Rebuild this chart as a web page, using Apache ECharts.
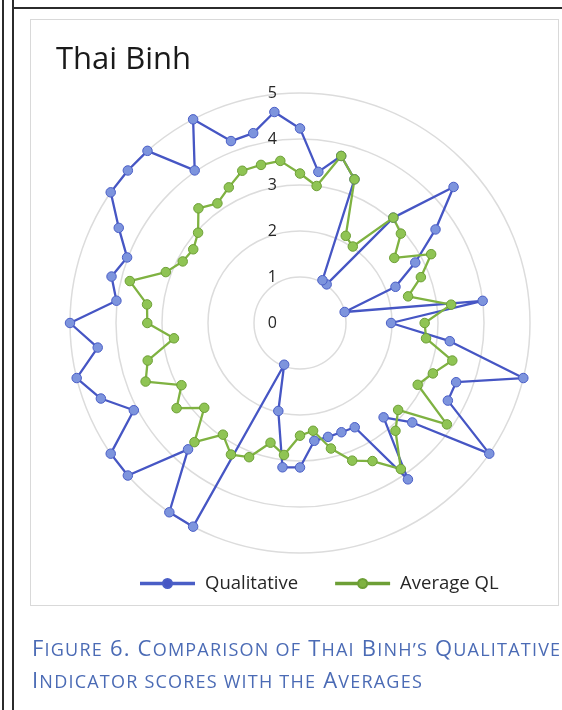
<!DOCTYPE html>
<html>
<head>
<meta charset="utf-8">
<script src="https://cdn.jsdelivr.net/npm/echarts@6/dist/echarts.min.js"></script>
<style>
  html, body { margin: 0; padding: 0; background: #ffffff; }
  body { width: 562px; height: 710px; position: relative; overflow: hidden; }
  .vline { position: absolute; top: 0; bottom: 0; width: 1.5px; background: #2b2b2b; }
  .hline { position: absolute; left: 12px; right: 0; height: 1.5px; background: #2b2b2b; }
  #frame { position: absolute; left: 30px; top: 19px; width: 529px; height: 587px; border: 1px solid #d9d9d9; box-sizing: border-box; }
  #chart { position: absolute; left: 0; top: 0; width: 562px; height: 710px; }
  #caption { position: absolute; left: 32px; top: 632px; width: 600px; color: #4b6bb5;
    font-family: "Open Sans", "Lato", sans-serif; font-size: 22px; letter-spacing: 1.2px;
    line-height: 30px; white-space: nowrap; }
  #caption .sc { text-transform: uppercase; font-size: 0.82em; }
</style>
</head>
<body>
<div class="vline" style="left:2px"></div>
<div class="vline" style="left:12px"></div>
<div class="hline" style="top:7px"></div>
<div id="frame"></div>
<div id="chart"></div>
<div id="caption">F<span class="sc">igure</span> 6. C<span class="sc">omparison of</span> T<span class="sc">hai</span> B<span class="sc">inh’s</span> Q<span class="sc">ualitative</span><br>I<span class="sc">ndicator scores with the</span> A<span class="sc">verages</span></div>
<script>
// ---- data (clockwise from the top) ----
const seriesNames = ['Qualitative', 'Average QL'];
const qualitative = [4.23, 3.31, 3.74, 3.34, 1.05, 1.02, 3.06, 4.46, 3.58, 2.83, 2.22, 1.00, 4.00,
  1.98, 3.28, 5.00, 3.63, 3.63, 5.00, 3.26, 2.74, 4.13, 2.56, 2.54, 2.55, 2.58, 3.14, 3.16, 1.97,
  0.97, 5.00, 5.00, 3.67, 5.00, 5.00, 4.08, 4.63, 5.00, 4.43, 5.00, 4.02, 4.22, 4.02, 4.45, 5.00,
  5.00, 5.00, 4.03, 5.00, 4.23, 4.25, 4.62];
const averageQL = [3.25, 3.00, 3.74, 3.34, 2.14, 2.02, 3.06, 2.93, 2.49, 3.22, 2.81, 2.42, 3.31,
  2.71, 2.76, 3.41, 3.09, 2.89, 3.88, 2.85, 3.13, 3.86, 3.39, 3.20, 2.81, 2.36, 2.45, 2.89, 2.68,
  3.12, 3.23, 2.95, 3.46, 2.78, 3.26, 2.91, 3.59, 3.41, 2.76, 3.32, 3.35, 3.81, 3.12, 2.88, 2.82,
  2.96, 3.33, 3.16, 3.33, 3.54, 3.54, 3.55];
const categories = qualitative.map((_, i) => 'QL' + (i + 1));
const tickLabels = ['0', '1', '2', '3', '4', '5'];

// ECharts radar runs counter-clockwise; reorder so the categories run clockwise like the original
const N = categories.length;
const order = [0];
for (let i = N - 1; i >= 1; i--) order.push(i);

const FONT = '"Open Sans", "Lato", sans-serif';
const legendIcon = 'path://M0,4.2H21.5V5.8H0Z M31.5,4.2H53V5.8H31.5Z M22,5A4.5,4.5 0 1 1 31,5A4.5,4.5 0 1 1 22,5Z M26.5,0V0.5Z M26.5,10V9.5Z';

const chart = echarts.init(document.getElementById('chart'), null, { renderer: 'canvas' });
chart.setOption({
  animation: false,
  title: {
    text: 'Thai Binh', left: 51, top: 40,
    textStyle: { fontFamily: FONT, fontSize: 31, fontWeight: 'normal', color: '#1a1a1a' }
  },
  legend: {
    left: 140, top: 574, padding: 0, itemWidth: 53, itemHeight: 10, itemGap: 37,
    textStyle: { fontFamily: FONT, fontSize: 18.5, color: '#262626', padding: [0, 0, 0, 6] },
    data: [
      { name: seriesNames[0], icon: legendIcon, itemStyle: { color: '#4656c4' } },
      { name: seriesNames[1], icon: legendIcon, itemStyle: { color: '#7fb241' } }
    ]
  },
  radar: {
    center: [300, 323], radius: 230, startAngle: 90, shape: 'circle', splitNumber: 5,
    axisName: { show: false },
    axisLine: { show: false },
    axisTick: { show: false },
    axisLabel: { show: false },
    splitArea: { show: false },
    splitLine: { lineStyle: { color: '#dcdcdc', width: 1.5 } },
    indicator: order.map(i => ({ name: categories[i], min: 0, max: 5 }))
  },
  polar: { center: [300, 323], radius: 230 },
  angleAxis: { type: 'value', min: 0, max: 360, startAngle: 90, show: false },
  radiusAxis: {
    type: 'value', min: 0, max: 5, interval: 1,
    axisLine: { show: false }, axisTick: { show: false }, splitLine: { show: false },
    axisLabel: { show: true, fontFamily: FONT, fontSize: 16, color: '#262626', margin: 23,
      formatter: v => tickLabels[Math.round(v)] }
  },
  series: [{
    type: 'radar',
    symbol: 'circle',
    symbolSize: 9.5,
    data: [
      { name: seriesNames[0], value: order.map(i => qualitative[i]),
        lineStyle: { color: '#4656c4', width: 2.3 },
        itemStyle: { color: '#7d94dd', borderColor: '#4a5ec6', borderWidth: 1 } },
      { name: seriesNames[1], value: order.map(i => averageQL[i]),
        lineStyle: { color: '#7fb241', width: 2.3 },
        itemStyle: { color: '#8fc454', borderColor: '#6d9f36', borderWidth: 1 } }
    ]
  }]
});
</script>
</body>
</html>
